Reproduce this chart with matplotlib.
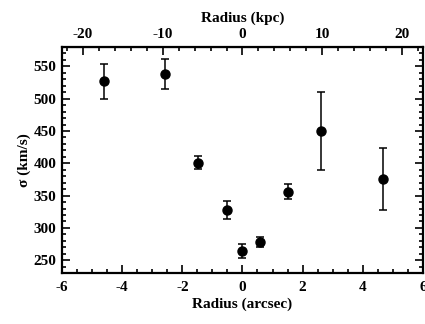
import matplotlib
matplotlib.use('Agg')
from matplotlib import pyplot as plt
from matplotlib.ticker import MultipleLocator, FixedLocator

plt.rcParams['font.family'] = 'Liberation Serif'
plt.rcParams['font.weight'] = 'bold'
plt.rcParams['font.size'] = 11
plt.rcParams['axes.unicode_minus'] = False

radius = [-4.6, -2.57, -1.48, -0.53, 0.0, 0.58, 1.5, 2.62, 4.66]
sigma = [527, 538, 401, 328, 264, 278, 356, 450, 376]
sigma_err = [27, 23, 10, 14, 11, 8, 12, 60, 48]
kpc_ticks = [-20, -10, 0, 10, 20]
kpc_per_arcsec = 3.77

fig = plt.figure(figsize=(4.25, 3.24), dpi=100)
ax = fig.add_axes([0.146, 0.157, 0.849, 0.698])
ax.errorbar(radius, sigma, yerr=sigma_err, fmt='o', color='black',
            markersize=6.5, capsize=3, elinewidth=1.1, capthick=1.1)

ax.set_xlim(-6, 6)
ax.set_ylim(230, 580)
ax.xaxis.set_major_locator(MultipleLocator(2))
ax.xaxis.set_minor_locator(MultipleLocator(0.5))
ax.yaxis.set_major_locator(MultipleLocator(50))
ax.yaxis.set_minor_locator(MultipleLocator(10))
ax.tick_params(which='both', direction='in', width=1.2, labelsize=11)
ax.tick_params(which='major', length=6, pad=4)
ax.tick_params(axis='x', which='major', pad=6)
ax.tick_params(which='minor', length=3)
ax.tick_params(axis='y', right=True, which='both')
for s in ax.spines.values():
    s.set_linewidth(1.6)
ax.set_xlabel('Radius (arcsec)', fontsize=11, fontweight='bold', labelpad=2)
ax.set_ylabel('σ (km/s)', fontsize=11, fontweight='bold', labelpad=2)

top = ax.secondary_xaxis('top', functions=(lambda x: x * kpc_per_arcsec,
                                           lambda x: x / kpc_per_arcsec))
top.xaxis.set_major_locator(FixedLocator(kpc_ticks))
top.xaxis.set_minor_locator(MultipleLocator(2))
top.tick_params(which='both', direction='in', width=1.2, labelsize=11)
top.tick_params(which='major', length=6, pad=4)
top.tick_params(which='minor', length=3)
top.set_xlabel('Radius (kpc)', fontsize=11, fontweight='bold', labelpad=5)

fig.savefig('out.png', dpi=100)
